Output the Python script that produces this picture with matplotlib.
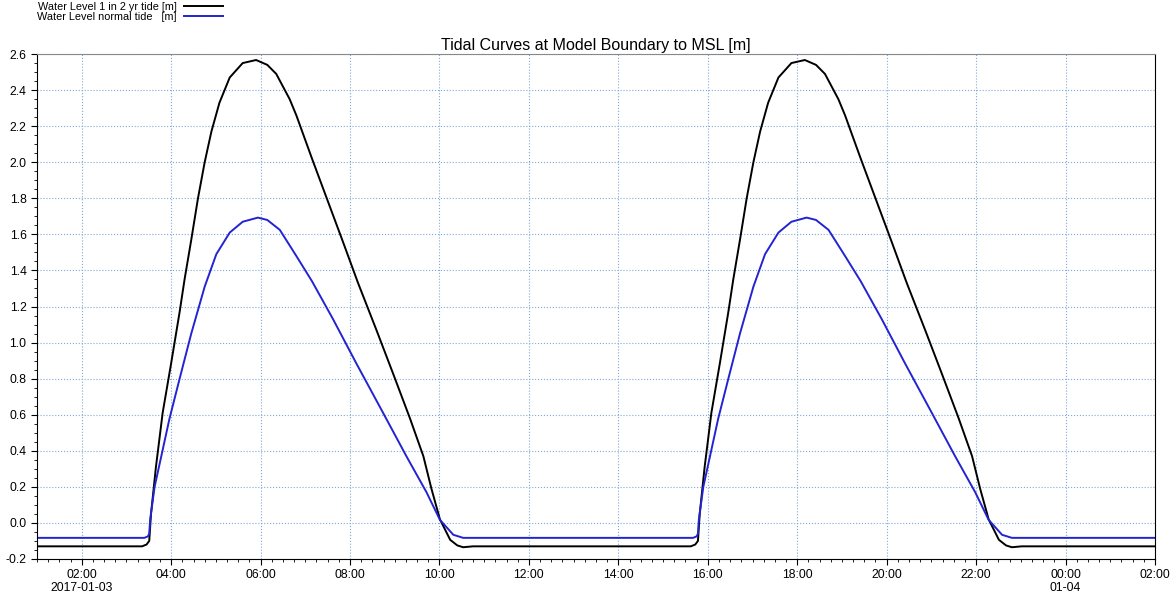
import matplotlib
matplotlib.use('Agg')
import matplotlib.pyplot as plt
import matplotlib.dates as mdates
from matplotlib.ticker import MultipleLocator, FormatStrFormatter
import pandas as pd

start = pd.Timestamp('2017-01-03 00:00')

# hours after 2017-01-03 00:00, water levels in m
hrs_2yr = [1.0, 3.35, 3.45, 3.51, 3.55, 3.66, 3.81, 4.00, 4.19, 4.30, 4.45, 4.60, 4.75,
           4.90, 5.08, 5.31, 5.60, 5.90, 6.15, 6.35, 6.65, 6.80, 7.15, 7.51, 7.84, 8.18,
           8.59, 8.96, 9.34, 9.64, 9.82, 10.01, 10.24, 10.40, 10.53, 10.75,
           15.62, 15.72, 15.78, 15.82, 15.93, 16.08, 16.27, 16.46, 16.57, 16.72, 16.87,
           17.02, 17.17, 17.35, 17.58, 17.87, 18.17, 18.42, 18.62, 18.92, 19.07, 19.42,
           19.78, 20.11, 20.45, 20.86, 21.23, 21.61, 21.91, 22.09, 22.28, 22.51, 22.67,
           22.80, 23.02, 26.0]
wl_2yr = [-0.13, -0.13, -0.12, -0.10, 0.05, 0.31, 0.61, 0.885, 1.17, 1.35, 1.57, 1.80, 2.00,
          2.17, 2.33, 2.47, 2.55, 2.567, 2.54, 2.49, 2.35, 2.26, 2.02, 1.78, 1.56, 1.33,
          1.07, 0.83, 0.58, 0.37, 0.19, 0.02, -0.094, -0.125, -0.135, -0.13,
          -0.13, -0.12, -0.10, 0.05, 0.31, 0.61, 0.885, 1.17, 1.35, 1.57, 1.80,
          2.00, 2.17, 2.33, 2.47, 2.55, 2.567, 2.54, 2.49, 2.35, 2.26, 2.02,
          1.78, 1.56, 1.33, 1.07, 0.83, 0.58, 0.37, 0.19, 0.02, -0.094, -0.125,
          -0.135, -0.13, -0.13]

hrs_norm = [1.0, 3.40, 3.48, 3.51, 3.53, 3.63, 3.78, 3.96, 4.19, 4.45, 4.75, 5.01, 5.31,
            5.60, 5.94, 6.15, 6.43, 6.80, 7.15, 7.62, 8.14, 8.74, 9.26, 9.71, 10.01,
            10.31, 10.53,
            15.67, 15.75, 15.78, 15.80, 15.90, 16.05, 16.23, 16.46, 16.72, 17.02, 17.28,
            17.58, 17.87, 18.21, 18.42, 18.70, 19.07, 19.42, 19.89, 20.41, 21.01, 21.53,
            21.98, 22.28, 22.58, 22.80, 26.0]
wl_norm = [-0.083, -0.083, -0.075, -0.06, 0.017, 0.20, 0.37, 0.575, 0.80, 1.05, 1.31, 1.49,
           1.61, 1.67, 1.693, 1.68, 1.625, 1.48, 1.34, 1.13, 0.885, 0.61, 0.37, 0.17,
           0.017, -0.066, -0.083,
           -0.083, -0.075, -0.06, 0.017, 0.20, 0.37, 0.575, 0.80, 1.05, 1.31, 1.49,
           1.61, 1.67, 1.693, 1.68, 1.625, 1.48, 1.34, 1.13, 0.885, 0.61, 0.37,
           0.17, 0.017, -0.066, -0.083, -0.083]

t_2yr = [start + pd.Timedelta(hours=h) for h in hrs_2yr]
t_norm = [start + pd.Timedelta(hours=h) for h in hrs_norm]

plt.rcParams['font.family'] = ['Liberation Sans', 'DejaVu Sans']

fig = plt.figure(figsize=(11.74, 5.94), dpi=100)
ax = fig.add_axes([0.0315, 0.059, 0.9523, 0.850])

ax.plot(t_2yr, wl_2yr, color='black', lw=1.4, label='Water Level 1 in 2 yr tide [m]')
ax.plot(t_norm, wl_norm, color='#2323d2', lw=1.4, label='Water Level normal tide   [m]')

ax.set_xlim(start + pd.Timedelta(hours=1), start + pd.Timedelta(hours=26))
ax.set_ylim(-0.2, 2.6)

ax.yaxis.set_major_locator(MultipleLocator(0.2))
ax.yaxis.set_minor_locator(MultipleLocator(0.05))
ax.yaxis.set_major_formatter(FormatStrFormatter('%.1f'))

#x ticks every 2 hours, date under first and midnight
ticks = [start + pd.Timedelta(hours=h) for h in range(2, 27, 2)]
labels = []
for tk in ticks:
    s = tk.strftime('%H:%M')
    if tk == ticks[0]:
        s += '\n2017-01-03'
    elif tk.hour == 0:
        s += '\n01-04'
    labels.append(s)
ax.set_xticks(ticks)
ax.set_xticklabels(labels)
ax.xaxis.set_minor_locator(mdates.MinuteLocator(byminute=[0, 15, 30, 45]))

ax.tick_params(axis='both', which='major', direction='out', length=4, labelsize=8.8, width=0.8)
ax.tick_params(axis='both', which='minor', direction='out', length=2.5, width=0.6)
ax.tick_params(axis='x', pad=3)

ax.grid(True, which='major', color='#7fa9d6', linestyle=':', linewidth=0.8)

for side in ['left', 'bottom', 'right']:
    ax.spines[side].set_color('black')
ax.spines['top'].set_color('#888888')

ax.set_title('Tidal Curves at Model Boundary to MSL [m]', fontsize=11.5, pad=3)

fig.legend(loc='upper left', bbox_to_anchor=(0.026, 1.008), frameon=False, fontsize=7.8,
           markerfirst=False, handlelength=3.6, labelspacing=0.0, borderaxespad=0.2,
           handletextpad=0.7)

fig.savefig('out.png', dpi=100)
